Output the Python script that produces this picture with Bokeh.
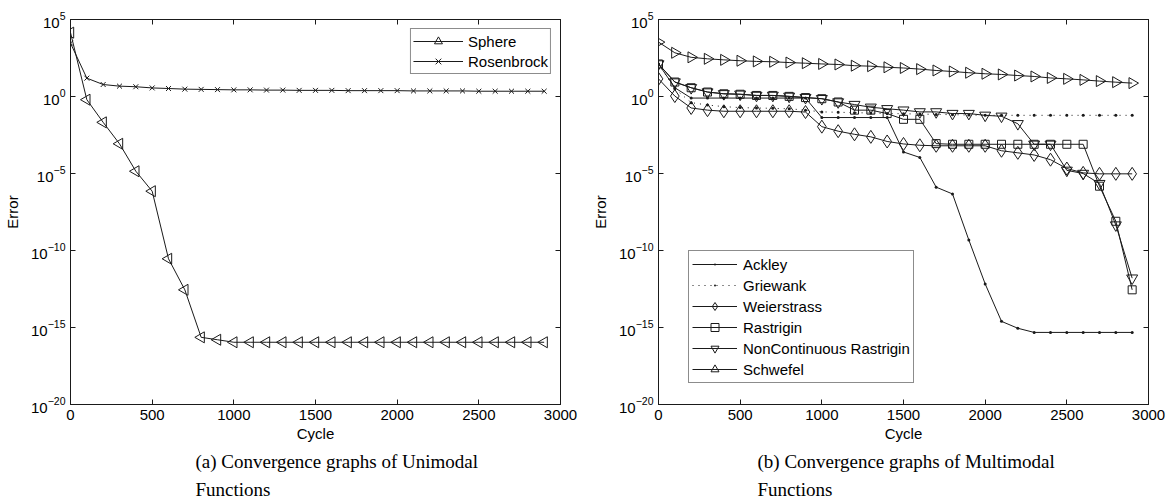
import math
from bokeh.plotting import figure
from bokeh.layouts import row
from bokeh.models import (FixedTicker, LinearAxis, LogAxis, Title, Range1d,
                          CustomJSTickFormatter)
from bokeh.embed import file_html
from bokeh.resources import INLINE

# ---------------- data ----------------
cycles = [0, 100, 200, 300, 400, 500, 600, 700, 800, 900,
          1000, 1100, 1200, 1300, 1400, 1500, 1600, 1700, 1800, 1900,
          2000, 2100, 2200, 2300, 2400, 2500, 2600, 2700, 2800, 2900]

sphere = [1.4e4, 6.2e-1, 2.1e-2, 8.5e-4, 1.4e-5, 7.1e-7, 2.9e-11, 2.8e-13, 2.3e-16, 1.6e-16,
          1.1e-16, 1.1e-16, 1.1e-16, 1.1e-16, 1.1e-16, 1.1e-16, 1.1e-16, 1.1e-16, 1.1e-16, 1.1e-16,
          1.1e-16, 1.1e-16, 1.1e-16, 1.1e-16, 1.1e-16, 1.1e-16, 1.1e-16, 1.1e-16, 1.1e-16, 1.1e-16]
rosenbrock = [2.9e3, 15.5, 6.0, 4.7, 4.3, 3.6, 3.3, 3.0, 2.9, 2.8,
              2.7, 2.7, 2.6, 2.6, 2.5, 2.5, 2.5, 2.4, 2.4, 2.4,
              2.4, 2.3, 2.3, 2.3, 2.3, 2.2, 2.2, 2.2, 2.2, 2.2]

ackley = [1.3e2, 3.7, 7.9e-1, 7.9e-1, 7.9e-1, 7.9e-1, 7.9e-1, 7.9e-1, 7.9e-1, 7.9e-1,
          4.3e-2, 4.3e-2, 4.3e-2, 4.3e-2, 4.3e-2, 2.5e-4, 1.1e-4, 1.3e-6, 4.7e-7, 4.8e-10,
          6.8e-13, 2.5e-15, 8.9e-16, 4.8e-16, 4.8e-16, 4.8e-16, 4.8e-16, 4.8e-16, 4.8e-16, 4.8e-16]
griewank = [1.3e2, 3.2, 4.0e-1, 2.8e-1, 2.2e-1, 1.9e-1, 1.8e-1, 1.7e-1, 1.6e-1, 1.3e-1,
            1.0e-1, 9.5e-2, 8.9e-2, 8.5e-2, 7.9e-2, 7.6e-2, 7.2e-2, 6.9e-2, 6.6e-2, 6.3e-2,
            6.0e-2, 6.0e-2, 6.0e-2, 6.0e-2, 6.0e-2, 6.0e-2, 6.0e-2, 6.0e-2, 6.0e-2, 6.0e-2]
weierstrass = [14.0, 1.07, 1.8e-1, 1.3e-1, 1.1e-1, 1.1e-1, 1.1e-1, 1.1e-1, 1.1e-1, 9.8e-2,
               1.1e-2, 5.6e-3, 3.5e-3, 2.4e-3, 1.2e-3, 8.3e-4, 6.8e-4, 6.3e-4, 6.3e-4, 6.3e-4,
               6.3e-4, 3.0e-4, 2.2e-4, 1.6e-4, 7.9e-5, 2.1e-5, 1.1e-5, 9.5e-6, 9.5e-6, 9.5e-6]
rastrigin = [1.3e2, 8.7, 3.7, 1.95, 1.5, 1.4, 1.17, 1.17, 1.02, 8.5e-1,
             7.2e-1, 4.4e-1, 1.3e-1, 1.3e-1, 7.8e-2, 3.3e-2, 3.3e-2, 8.7e-4, 7.9e-4, 7.9e-4,
             7.9e-4, 7.9e-4, 7.9e-4, 7.9e-4, 7.9e-4, 7.9e-4, 7.9e-4, 1.5e-6, 7.9e-9, 2.8e-13]
nc_rastrigin = [1.3e2, 8.7, 3.7, 1.95, 1.5, 1.4, 1.17, 1.17, 1.02, 8.5e-1,
                7.2e-1, 4.4e-1, 3.0e-1, 2.0e-1, 1.6e-1, 1.3e-1, 1.0e-1, 1.0e-1, 7.8e-2, 7.8e-2,
                6.0e-2, 5.2e-2, 1.7e-2, 7.9e-4, 7.9e-4, 1.6e-5, 1.0e-5, 2.2e-6, 4.5e-9, 1.6e-12]
schwefel = [3.4e3, 6.9e2, 3.5e2, 2.8e2, 2.4e2, 2.1e2, 1.9e2, 1.8e2, 1.6e2, 1.45e2,
            1.3e2, 1.2e2, 1.0e2, 93, 79, 71, 60, 49, 42, 35,
            30, 27, 23, 20, 16, 14, 12, 10, 8.5, 7.4]

x_ticks = [0, 500, 1000, 1500, 2000, 2500, 3000]
y_ticks = [1e-20, 1e-15, 1e-10, 1e-5, 1e0, 1e5]

SANS = "Liberation Sans"
SERIF = "Liberation Serif"
INK = "#1a1a1a"


def make_fig(border_left, cap_offset, cap1, cap2):
    p = figure(width=587, height=500, y_axis_type="log",
               x_range=Range1d(0, 3000), y_range=Range1d(1e-20, 1e5),
               output_backend="svg", toolbar_location=None,
               min_border_left=border_left, min_border_right=587 - border_left - 490,
               min_border_top=19, min_border_bottom=96)
    p.background_fill_color = "white"
    p.border_fill_color = "white"
    p.outline_line_color = INK
    p.xgrid.visible = False
    p.ygrid.visible = False

    for ax in (p.xaxis[0], p.yaxis[0]):
        ax.major_tick_in = 5
        ax.major_tick_out = 0
        ax.minor_tick_line_color = None
        ax.axis_line_color = INK
        ax.major_tick_line_color = INK
        ax.major_label_text_font = SANS
        ax.major_label_text_font_size = "15px"
        ax.major_label_text_color = "black"
        ax.axis_label_text_font = SANS
        ax.axis_label_text_font_size = "15px"
        ax.axis_label_text_font_style = "normal"
        ax.axis_label_text_color = "black"
    p.xaxis.ticker = FixedTicker(ticks=x_ticks)
    p.yaxis.ticker = FixedTicker(ticks=y_ticks)
    p.xaxis.axis_label = "Cycle"
    p.yaxis.axis_label = "Error"
    p.xaxis.major_label_standoff = 5
    p.xaxis.axis_label_standoff = 2
    p.yaxis.major_label_standoff = 5
    p.yaxis.axis_label_standoff = 7

    blank = CustomJSTickFormatter(code="return ''")
    top = LinearAxis(ticker=FixedTicker(ticks=x_ticks), formatter=blank,
                     major_tick_in=5, major_tick_out=0, minor_tick_line_color=None,
                     axis_line_color=INK, major_tick_line_color=INK,
                     major_label_standoff=0)
    right = LogAxis(ticker=FixedTicker(ticks=y_ticks), formatter=blank,
                    major_tick_in=5, major_tick_out=0, minor_tick_line_color=None,
                    axis_line_color=INK, major_tick_line_color=INK,
                    major_label_standoff=0)
    p.add_layout(top, "above")
    p.add_layout(right, "right")

    t1 = Title(text=cap1, align="left", offset=cap_offset, text_font=SERIF,
               text_font_size="19px", text_font_style="normal", text_color="black",
               standoff=8)
    t2 = Title(text=cap2, align="left", offset=cap_offset, text_font=SERIF,
               text_font_size="19px", text_font_style="normal", text_color="black",
               standoff=2)
    p.add_layout(t1, "below")
    p.add_layout(t2, "below")
    return p


def series(p, y, label, marker=None, size=10, angle=0.0, dash="solid", fill=None):
    p.line(cycles, y, line_color=INK, line_width=1, line_dash=dash, legend_label=label)
    if marker is not None:
        p.scatter(cycles, y, marker=marker, size=size, angle=angle,
                  line_color=INK, line_width=1, fill_color=fill, legend_label=label)


def style_legend(lg, spacing, padding, glyph_width, standoff):
    lg.padding = padding
    lg.spacing = spacing
    lg.glyph_width = glyph_width
    lg.glyph_height = 20
    lg.label_height = 15
    lg.label_standoff = standoff
    lg.label_text_font = SANS
    lg.label_text_font_size = "15px"
    lg.label_text_color = "black"
    lg.border_line_color = INK
    lg.border_line_width = 1
    lg.background_fill_alpha = 1


# ---------------- left panel ----------------
p1 = make_fig(70, 125, "(a) Convergence graphs of Unimodal", "Functions")
series(p1, sphere, "Sphere", "triangle", 11, math.pi / 2)
series(p1, rosenbrock, "Rosenbrock", "x", 7)
lg = p1.legend[0]
lg.location = "top_right"
lg.margin = 9
style_legend(lg, 0, 2, 50, 5)

# ---------------- right panel ----------------
p2 = make_fig(71, 99, "(b) Convergence graphs of Multimodal", "Functions")
series(p2, ackley, "Ackley", "dot", 12, fill=INK)
series(p2, griewank, "Griewank", "dot", 12, dash="1 5", fill=INK)
series(p2, weierstrass, "Weierstrass", "diamond", 13)
series(p2, rastrigin, "Rastrigin", "square", 8)
series(p2, nc_rastrigin, "NonContinuous Rastrigin", "inverted_triangle", 11)
series(p2, schwefel, "Schwefel", "triangle", 11, -math.pi / 2)
lg2 = p2.legend[0]
lg2.location = (30, 21)
style_legend(lg2, 1, 3, 45, 6)

layout = row(p1, p2)
open("out.html", "w").write(file_html(layout, INLINE))
